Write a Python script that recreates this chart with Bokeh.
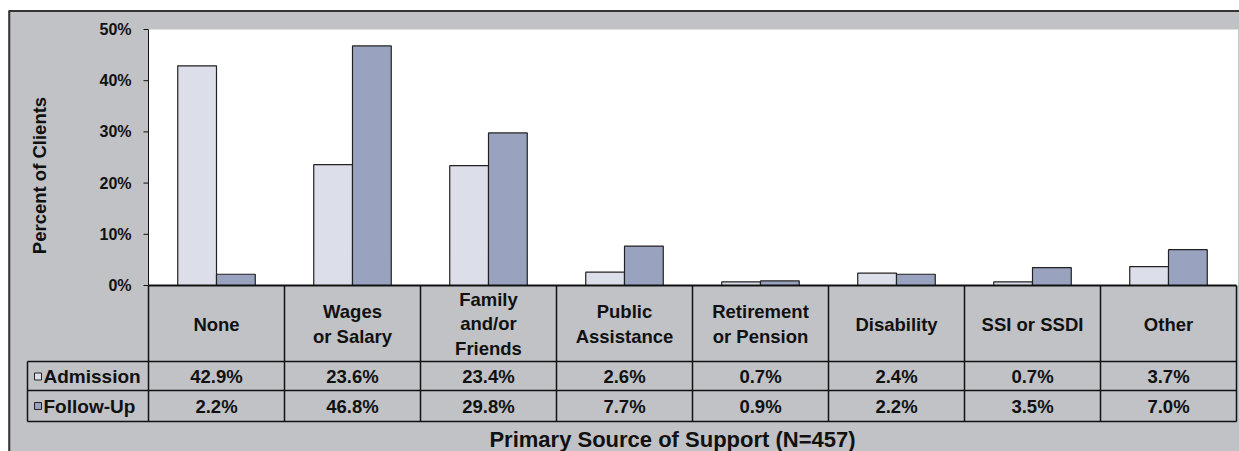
import math
from bokeh.plotting import figure
from bokeh.models import Range1d
from bokeh.core.properties import value
from bokeh.embed import file_html
from bokeh.resources import INLINE

# ---------------- data ----------------
categories = ["None", "Wages\nor Salary", "Family\nand/or\nFriends", "Public\nAssistance",
              "Retirement\nor Pension", "Disability", "SSI or SSDI", "Other"]
admission = [42.9, 23.6, 23.4, 2.6, 0.7, 2.4, 0.7, 3.7]
follow_up = [2.2, 46.8, 29.8, 7.7, 0.9, 2.2, 3.5, 7.0]
series_names = ["Admission", "Follow-Up"]
y_ticks = [0, 10, 20, 30, 40, 50]
y_tick_labels = ["0%", "10%", "20%", "30%", "40%", "50%"]
y_title = "Percent of Clients"
x_title = "Primary Source of Support (N=457)"

# ---------------- layout (page pixels -> data units) ----------------
W, H = 1239, 451
OX, OY = 0, 0                       # where the canvas sits on the page
PX0, PX_PER_CAT = 148.0, 136.0      # plot area left edge, width of one category
PY0, PY_PER_PCT = 285.0, 5.12       # zero line, pixels per percent

def ux(px):
    return (px - PX0) / PX_PER_CAT

def vy(py):
    return (PY0 - py) / PY_PER_PCT

n = len(categories)
FONT = value("Liberation Sans")
BG = "#C0C2C6"
C_ADM = "#DCDEEA"
C_FUP = "#99A2BF"
INK = "#111111"

p = figure(width=W, height=H, output_backend="svg", toolbar_location=None,
           x_range=Range1d(ux(OX), ux(OX + W)), y_range=Range1d(vy(OY + H), vy(OY)),
           x_axis_location=None, y_axis_location=None, min_border=0,
           tools="")
p.outline_line_color = None
p.grid.visible = False
p.background_fill_color = "white"
p.border_fill_color = "white"

# chart area background and frame
p.quad(left=[ux(8)], right=[ux(OX + W)], top=[vy(10.5)], bottom=[vy(OY + H)],
       fill_color=BG, line_color=None)
p.segment(x0=[ux(8), ux(8.75)], y0=[vy(10.5), vy(10.5)],
          x1=[ux(OX + W), ux(8.75)], y1=[vy(10.5), vy(OY + H)],
          line_color="#333333", line_width=2)

# plot area
ymax = y_ticks[-1]
p.quad(left=[0], right=[n + 0.012], top=[ymax], bottom=[0], fill_color="white",
       line_color=None)

# bars
bw = 0.285
xs = [i + 0.5 for i in range(n)]
p.vbar(x=[x - bw / 2 for x in xs], top=admission, bottom=0, width=bw,
       fill_color=C_ADM, line_color="#222222", line_width=1.2)
p.vbar(x=[x + bw / 2 for x in xs], top=follow_up, bottom=0, width=bw,
       fill_color=C_FUP, line_color="#222222", line_width=1.2)

# y axis line, ticks and labels
p.segment(x0=[0], y0=[0], x1=[0], y1=[ymax], line_color=INK, line_width=1)
p.segment(x0=[ux(143)] * len(y_ticks), y0=y_ticks, x1=[0] * len(y_ticks), y1=y_ticks,
          line_color=INK, line_width=1)
p.text(x=[ux(131)] * len(y_ticks), y=y_ticks, text=y_tick_labels,
       text_font=FONT, text_font_style="bold", text_font_size="16px",
       text_align="right", text_baseline="middle", text_color=INK)
p.text(x=[ux(39)], y=[vy(175)], text=[y_title], angle=math.pi / 2,
       text_font=FONT, text_font_style="bold", text_font_size="18.5px",
       text_align="center", text_baseline="middle", text_color=INK)

# data table
row_edges = [PY0, 361.0, 390.0, 421.0]        # header, admission, follow-up
legend_left = 27.0
hx0, hy0, hx1, hy1 = [], [], [], []
for e in row_edges[1:]:
    hx0.append(ux(legend_left)); hx1.append(n); hy0.append(vy(e)); hy1.append(vy(e))
for i in range(n + 1):
    hx0.append(i); hx1.append(i); hy0.append(0); hy1.append(vy(row_edges[-1]))
hx0.append(ux(legend_left)); hx1.append(ux(legend_left))
hy0.append(vy(row_edges[1])); hy1.append(vy(row_edges[-1]))
p.segment(x0=hx0, y0=hy0, x1=hx1, y1=hy1, line_color=INK, line_width=1.5)
# zero line
p.segment(x0=[0], y0=[0], x1=[n], y1=[0], line_color=INK, line_width=2)

# header labels
hdr_y = vy((row_edges[0] + row_edges[1]) / 2 + 0.5)
p.text(x=xs, y=[hdr_y] * n, text=categories, text_font=FONT, text_font_style="bold",
       text_font_size="18.5px", text_align="center", text_baseline="middle",
       text_color=INK, text_line_height=1.17)

# value rows
row_centers = [(row_edges[1] + row_edges[2]) / 2 + 0.5, (row_edges[2] + row_edges[3]) / 2]
for vals, rc in zip([admission, follow_up], row_centers):
    p.text(x=xs, y=[vy(rc)] * n, text=[f"{v:.1f}%" for v in vals],
           text_font=FONT, text_font_style="bold", text_font_size="18.5px",
           text_align="center", text_baseline="middle", text_color=INK)

# legend keys in the table
key_y = [vy(rc) for rc in row_centers]
p.rect(x=[ux(37.5)] * 2, y=key_y, width=7, height=7, width_units="screen",
       height_units="screen", fill_color=[C_ADM, C_FUP], line_color="#222222", line_width=1)
p.text(x=[ux(43)] * 2, y=key_y, text=series_names, text_font=FONT,
       text_font_style="bold", text_font_size="19px", text_align="left",
       text_baseline="middle", text_color=INK)

# x title
p.text(x=[ux(672)], y=[vy(439)], text=[x_title], text_font=FONT, text_font_style="bold",
       text_font_size="22px", text_align="center", text_baseline="middle", text_color=INK)

open("out.html", "w").write(file_html(p, INLINE))
